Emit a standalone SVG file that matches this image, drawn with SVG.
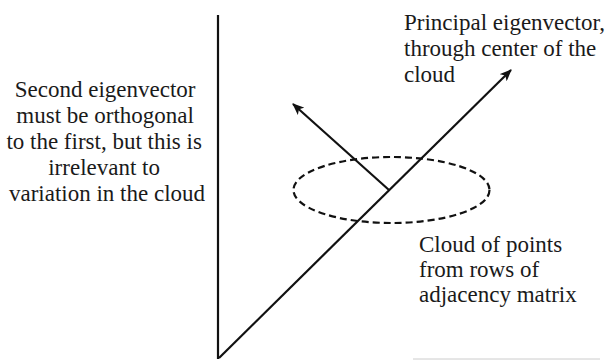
<svg xmlns="http://www.w3.org/2000/svg" width="606" height="360" viewBox="0 0 606 360">
<style>
.t{font-family:"Liberation Serif","Times New Roman","DejaVu Serif","Noto Serif",Times,serif;font-size:23px;fill:#1a1a1a}
.ln{stroke:#111;stroke-width:2.2;fill:none}
</style>
<defs>
<marker id="ah" viewBox="0 0 12 10" refX="11" refY="5" markerWidth="12" markerHeight="10" markerUnits="userSpaceOnUse" orient="auto">
<path d="M0,0 L12,5 L0,10 L3,5 Z" fill="#111"/>
</marker>
</defs>
<rect width="606" height="360" fill="#fff"/>
<g id="axis">
<line class="ln" x1="218" y1="15" x2="218" y2="359"/>
</g>
<g id="cloud">
<ellipse cx="391.5" cy="190" rx="98" ry="33" fill="none" stroke="#111" stroke-width="2.2" stroke-dasharray="7,4"/>
</g>
<g id="connectors">
<line class="ln" x1="219" y1="358" x2="511" y2="70" marker-end="url(#ah)"/>
<line class="ln" x1="389" y1="190" x2="293" y2="104" marker-end="url(#ah)"/>
<line x1="413" y1="359" x2="600" y2="359" stroke="#ccc" stroke-width="1"/>
</g>
<g id="label-second">
<text class="t" text-anchor="middle">
<tspan x="108" y="97">Second eigenvector</tspan>
<tspan x="108" y="123">must be orthogonal</tspan>
<tspan x="107" y="149">to the first, but this is</tspan>
<tspan x="107" y="175">irrelevant to</tspan>
<tspan x="107" y="201">variation in the cloud</tspan>
</text>
</g>
<g id="label-principal">
<text class="t">
<tspan x="404" y="30">Principal eigenvector,</tspan>
<tspan x="404" y="56">through center of the</tspan>
<tspan x="404" y="82">cloud</tspan>
</text>
</g>
<g id="label-cloud">
<text class="t">
<tspan x="419" y="252">Cloud of points</tspan>
<tspan x="419" y="277">from rows of</tspan>
<tspan x="419" y="302">adjacency matrix</tspan>
</text>
</g>
</svg>
